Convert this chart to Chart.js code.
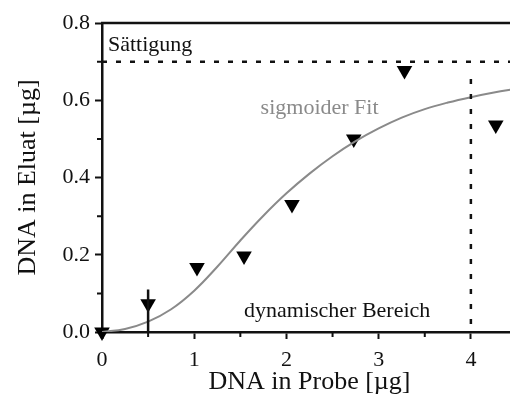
<!DOCTYPE html>
<html>
<head>
<meta charset="utf-8">
<script src="https://cdn.jsdelivr.net/npm/chart.js@4/dist/chart.umd.min.js"></script>
<style>
  html, body { margin: 0; padding: 0; background: #fff; overflow: hidden; }
  canvas { display: block; }
</style>
</head>
<body>
<canvas id="chart" width="526" height="399" style="width:526px;height:399px"></canvas>
<script>
// measured points (DNA in Probe vs DNA in Eluat, µg)
let probeX = [0, 0.5, 1.03, 1.54, 2.06, 2.73, 3.28, 4.27]
let eluatY = [0, 0.073, 0.167, 0.197, 0.33, 0.5, 0.677, 0.536]

// sigmoid fit
let fitX = [0, 0.25, 0.5, 0.75, 1.0, 1.25, 1.5, 1.75, 2.0, 2.25, 2.5, 2.75, 3.0, 3.25, 3.5, 3.75, 4.0, 4.25, 4.5]
let fitY = [0, 0.008, 0.027, 0.059, 0.107, 0.169, 0.237, 0.301, 0.359, 0.41, 0.455, 0.494, 0.527, 0.555, 0.577, 0.594, 0.608, 0.62, 0.63]

// saturation level and dynamic range limits
let saturation = 0.7
let rangeLow = 0.5
let rangeLowTop = 0.11
let rangeHigh = 4
let rangeHighTop = 0.655

let xTickLabels = ['0', '1', '2', '3', '4']
let yTickLabels = ['0.0', '0.2', '0.4', '0.6', '0.8']

let serif = "'Liberation Serif', 'Times New Roman', serif"
Chart.defaults.font.family = serif
Chart.defaults.color = '#111'

function isMajor(v, step) {
    let r = v / step
    return Math.abs(r - Math.round(r)) < 1e-6
}

let extras = {
    id: 'extras',
    afterDraw(chart) {
        let ctx = chart.ctx
        let area = chart.chartArea
        let xs = chart.scales.x
        let ys = chart.scales.y
        ctx.save()
        // top frame line
        ctx.strokeStyle = '#111'
        ctx.lineWidth = 2.5
        ctx.beginPath()
        ctx.moveTo(area.left - 1, area.top)
        ctx.lineTo(area.right, area.top)
        ctx.stroke()
        // minor ticks
        ctx.lineWidth = 2
        ctx.beginPath()
        ys.ticks.forEach(t => {
            if (!isMajor(t.value, 0.2)) {
                let py = ys.getPixelForValue(t.value)
                ctx.moveTo(area.left - 5, py)
                ctx.lineTo(area.left, py)
            }
        })
        xs.ticks.forEach(t => {
            if (!isMajor(t.value, 1)) {
                let px = xs.getPixelForValue(t.value)
                ctx.moveTo(px, area.bottom)
                ctx.lineTo(px, area.bottom + 5)
            }
        })
        ctx.stroke()
        // annotations
        ctx.textBaseline = 'alphabetic'
        ctx.textAlign = 'left'
        ctx.font = '22px ' + serif
        ctx.fillStyle = '#111'
        ctx.fillText('Sättigung', xs.getPixelForValue(0.065), ys.getPixelForValue(0.727))
        ctx.fillText('dynamischer Bereich', xs.getPixelForValue(1.54), ys.getPixelForValue(0.039))
        ctx.fillStyle = '#8a8a8a'
        ctx.fillText('sigmoider Fit', xs.getPixelForValue(1.72), ys.getPixelForValue(0.564))
        ctx.restore()
    }
}

let fitData = fitX.map((x, i) => ({ x: x, y: fitY[i] }))
let pointData = probeX.map((x, i) => ({ x: x, y: eluatY[i] }))

new Chart(document.getElementById('chart'), {
    type: 'scatter',
    data: {
        datasets: [
            {
                label: 'Sättigung',
                data: [{ x: 0, y: saturation }, { x: 4.5, y: saturation }],
                showLine: true,
                borderColor: '#111',
                borderWidth: 2.5,
                borderDash: [5, 9],
                pointRadius: 0
            },
            {
                label: 'untere Grenze',
                data: [{ x: rangeLow, y: rangeLowTop }, { x: rangeLow, y: 0 }],
                showLine: true,
                borderColor: '#111',
                borderWidth: 2.5,
                pointRadius: 0
            },
            {
                label: 'obere Grenze',
                data: [{ x: rangeHigh, y: rangeHighTop }, { x: rangeHigh, y: 0 }],
                showLine: true,
                borderColor: '#111',
                borderWidth: 2.5,
                borderDash: [5, 10],
                pointRadius: 0
            },
            {
                label: 'sigmoider Fit',
                data: fitData,
                showLine: true,
                borderColor: '#8a8a8a',
                borderWidth: 2,
                tension: 0.4,
                pointRadius: 0
            },
            {
                label: 'Messwerte',
                data: pointData,
                pointStyle: 'triangle',
                rotation: 180,
                pointRadius: 9,
                pointBackgroundColor: '#000',
                pointBorderColor: '#000',
                pointBorderWidth: 0,
                clip: false
            }
        ]
    },
    options: {
        responsive: false,
        maintainAspectRatio: false,
        devicePixelRatio: 1,
        animation: false,
        events: [],
        layout: { padding: { top: 23, left: 0, right: 0, bottom: 0 } },
        plugins: { legend: { display: false }, tooltip: { enabled: false } },
        scales: {
            x: {
                type: 'linear',
                min: 0,
                max: 4.5,
                afterFit: s => { s.height = 67 },
                border: { color: '#111', width: 2.5 },
                grid: {
                    drawOnChartArea: false,
                    tickLength: 7,
                    tickWidth: 2,
                    tickColor: c => isMajor(c.tick.value, 1) ? '#111' : 'rgba(0,0,0,0)'
                },
                ticks: {
                    stepSize: 0.5,
                    padding: 8,
                    maxRotation: 0,
                    autoSkip: false,
                    font: { size: 22 },
                    callback: v => isMajor(v, 1) ? xTickLabels[Math.round(v)] : ''
                },
                title: {
                    display: true,
                    text: 'DNA in Probe [µg]',
                    font: { size: 26 },
                    padding: { top: 0, bottom: 1 }
                }
            },
            y: {
                type: 'linear',
                min: 0,
                max: 0.8,
                afterFit: s => { s.width = 102 },
                border: { color: '#111', width: 2.5 },
                grid: {
                    drawOnChartArea: false,
                    tickLength: 7,
                    tickWidth: 2,
                    tickColor: c => isMajor(c.tick.value, 0.2) ? '#111' : 'rgba(0,0,0,0)'
                },
                ticks: {
                    stepSize: 0.1,
                    padding: 5,
                    autoSkip: false,
                    font: { size: 22 },
                    callback: v => isMajor(v, 0.2) ? yTickLabels[Math.round(v / 0.2)] : ''
                },
                title: {
                    display: true,
                    text: 'DNA in Eluat [µg]',
                    font: { size: 26 },
                    padding: { top: 13, bottom: 0 }
                }
            }
        }
    },
    plugins: [extras]
})
</script>
</body>
</html>
